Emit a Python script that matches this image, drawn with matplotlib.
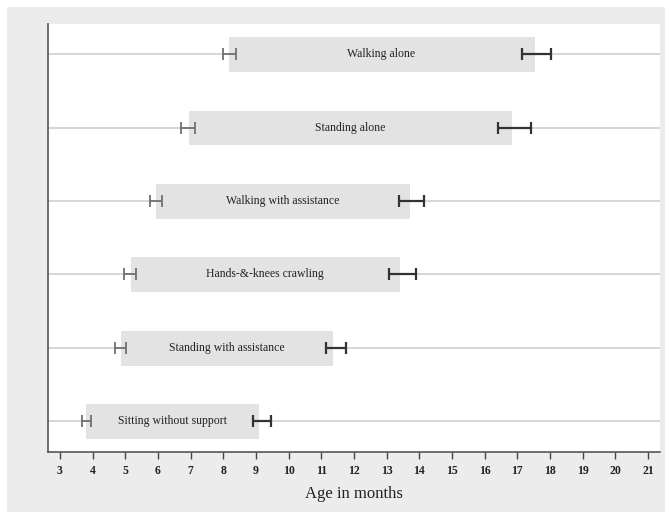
import matplotlib.pyplot as plt
from matplotlib.patches import Rectangle

# milestones, bottom to top
milestones = ['Sitting without support', 'Standing with assistance',
              'Hands-&-knees crawling', 'Walking with assistance',
              'Standing alone', 'Walking alone']
start = [3.80, 4.86, 5.17, 5.94, 6.95, 8.17]
start_lo = [3.66, 4.68, 4.96, 5.75, 6.72, 7.99]
start_hi = [3.94, 5.01, 5.33, 6.12, 7.13, 8.39]
end = [9.07, 11.34, 13.39, 13.68, 16.82, 17.52]
end_lo = [8.92, 11.14, 13.07, 13.38, 16.42, 17.16]
end_hi = [9.45, 11.75, 13.90, 14.14, 17.41, 18.02]
months = list(range(3, 22))

plt.rcParams['font.family'] = ['Liberation Serif', 'DejaVu Serif']

fig = plt.figure(figsize=(6.65, 5.17), dpi=100, facecolor='white')
fig.patches.append(Rectangle((7 / 665, 5 / 517), 658 / 665, 505 / 517,
                             transform=fig.transFigure, facecolor='#ececec',
                             edgecolor='none', zorder=-10))
ax = fig.add_axes([48 / 665, 65 / 517, 612 / 665, 428 / 517])
ax.set_zorder(1)
ax.set_facecolor('white')

ypos = list(range(len(milestones)))
for y in ypos:
    ax.axhline(y, color='#d6d6d6', lw=1.4, zorder=1)

widths = [e - s for s, e in zip(start, end)]
ax.barh(ypos, widths, left=start, height=0.46, color='#e3e3e3',
        edgecolor='#dcdcdc', lw=0.5, zorder=2)

for y, name, s, e in zip(ypos, milestones, start, end):
    ax.text((s + e) / 2, y, name, ha='center', va='center', fontsize=8.5,
            color='#222222', zorder=4)

ax.errorbar(start, ypos,
            xerr=[[s - l for s, l in zip(start, start_lo)],
                  [h - s for s, h in zip(start, start_hi)]],
            fmt='none', ecolor='#707070', elinewidth=1.3, capsize=4,
            capthick=1.3, zorder=3)
ax.errorbar(end, ypos,
            xerr=[[e - l for e, l in zip(end, end_lo)],
                  [h - e for e, h in zip(end, end_hi)]],
            fmt='none', ecolor='#333333', elinewidth=1.6, capsize=4,
            capthick=1.6, zorder=3)

ax.set_xlim(2.633, 21.37)
ax.set_ylim(-0.42, 5.41)
ax.set_xticks(months)
ax.set_yticks([])
ax.tick_params(axis='x', direction='out', length=5, width=1, colors='#444444',
               labelsize=8.5, pad=4, labelcolor='#222222')
for lbl in ax.get_xticklabels():
    lbl.set_fontweight('bold')
for side in ['top', 'right']:
    ax.spines[side].set_visible(False)
for side in ['left', 'bottom']:
    ax.spines[side].set_color('#555555')
    ax.spines[side].set_linewidth(1.2)
ax.set_xlabel('Age in months', fontsize=12, color='#222222', labelpad=7)

fig.savefig('out.png', dpi=100, facecolor=fig.get_facecolor())
